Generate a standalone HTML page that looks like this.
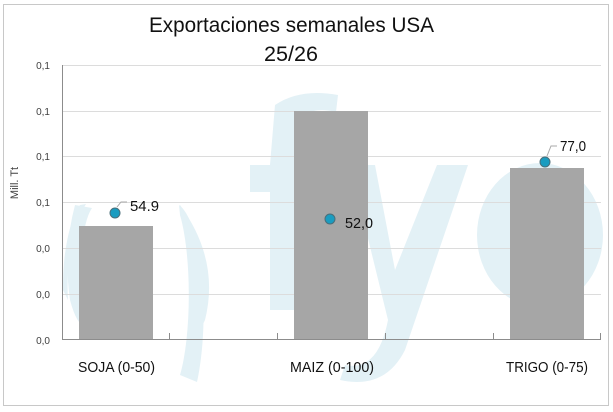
<!DOCTYPE html>
<html><head><meta charset="utf-8"><style>
body{margin:0;background:#fff;}
svg{display:block;font-family:"Liberation Sans",sans-serif;}
</style></head><body>
<svg width="613" height="412" viewBox="0 0 613 412">
<rect x="0" y="0" width="613" height="412" fill="#fff"/>
<rect x="3.5" y="4.5" width="605" height="401" fill="#fff" stroke="#c8c8c8"/>
<!-- watermark -->
<g fill="#e3f1f6">
<path d="M86 204 A38 96 0 0 0 68 300 L63 290 A30 90 0 0 1 80 205 Z"/>
<path d="M75 205 Q63 250 70 300 Q78 330 88 325 L90 300 Q80 280 82 250 Q84 220 92 208 Z"/>
<path d="M180 205 Q220 260 205 320 Q198 335 198 325 Q208 280 180 215 Z"/>
<path d="M179 205 A30 110 0 0 1 197 382 L180 375 A22 100 0 0 0 180 215 Z"/>
<path d="M275 105 Q300 88 338 95 L336 112 Q305 105 300 125 L300 165 L338 165 L338 192 L300 192 L300 310 L270 310 L270 192 L250 192 L250 165 L270 165 Z"/>
<path d="M350 165 L375 165 L395 270 L437 165 L468 165 L405 350 Q385 390 340 380 L345 365 Q378 372 388 320 Z"/>
<ellipse cx="540" cy="235" rx="63" ry="72"/>
</g>
<ellipse cx="545" cy="235" rx="30" ry="52" fill="#fff" opacity="0"/>
<!-- grid -->
<g stroke="#dcdcdc" stroke-width="1">
<line x1="62" y1="65.5" x2="601" y2="65.5"/>
<line x1="62" y1="111.5" x2="601" y2="111.5"/>
<line x1="62" y1="156.5" x2="601" y2="156.5"/>
<line x1="62" y1="202.5" x2="601" y2="202.5"/>
<line x1="62" y1="248.5" x2="601" y2="248.5"/>
<line x1="62" y1="294.5" x2="601" y2="294.5"/>
</g>
<!-- bars -->
<g fill="#a6a6a6">
<rect x="79" y="226" width="74" height="114"/>
<rect x="294" y="111" width="74" height="229"/>
<rect x="510" y="168" width="74" height="172"/>
</g>
<!-- axes -->
<g stroke="#8c8c8c" stroke-width="1">
<line x1="62.5" y1="65" x2="62.5" y2="340"/>
<line x1="62" y1="339.5" x2="601" y2="339.5"/>
<line x1="169.5" y1="333" x2="169.5" y2="340"/>
<line x1="277.5" y1="333" x2="277.5" y2="340"/>
<line x1="385.5" y1="333" x2="385.5" y2="340"/>
<line x1="493.5" y1="333" x2="493.5" y2="340"/>
<line x1="600.5" y1="333" x2="600.5" y2="340"/>
</g>
<!-- y labels -->
<g font-size="10" fill="#404040" text-anchor="end">
<text x="50" y="69">0,1</text>
<text x="50" y="115">0,1</text>
<text x="50" y="160">0,1</text>
<text x="50" y="206">0,1</text>
<text x="50" y="252">0,0</text>
<text x="50" y="298">0,0</text>
<text x="50" y="344">0,0</text>
</g>
<text transform="translate(18,183) rotate(-90)" font-size="11" fill="#404040" text-anchor="middle">Mill. Tt</text>
<!-- title -->
<text x="149" y="32" font-size="21" fill="#111" textLength="285" lengthAdjust="spacingAndGlyphs">Exportaciones semanales USA</text>
<text x="264" y="61" font-size="21" fill="#111" textLength="54" lengthAdjust="spacingAndGlyphs">25/26</text>
<!-- dots -->
<g stroke="#4a6f7a" stroke-width="1" fill="#1a9cc0">
<ellipse cx="115" cy="213" rx="5" ry="5"/>
<ellipse cx="330" cy="219" rx="5" ry="5"/>
<ellipse cx="545" cy="162" rx="5" ry="5"/>
</g>
<g stroke="#aaa" stroke-width="1" fill="none">
<polyline points="117,207 121,202 127,202"/>
<polyline points="547,156 551,146 557,146"/>
</g>
<g font-size="15" fill="#111">
<text x="130" y="211" textLength="29" lengthAdjust="spacingAndGlyphs">54.9</text>
<text x="345" y="228" textLength="28" lengthAdjust="spacingAndGlyphs">52,0</text>
<text x="560" y="151" textLength="26" lengthAdjust="spacingAndGlyphs">77,0</text>
</g>
<!-- categories -->
<g font-size="15" fill="#111">
<text x="78" y="372" textLength="77" lengthAdjust="spacingAndGlyphs">SOJA (0-50)</text>
<text x="290" y="372" textLength="84" lengthAdjust="spacingAndGlyphs">MAIZ (0-100)</text>
<text x="506" y="372" textLength="82" lengthAdjust="spacingAndGlyphs">TRIGO (0-75)</text>
</g>
</svg>
</body></html>
